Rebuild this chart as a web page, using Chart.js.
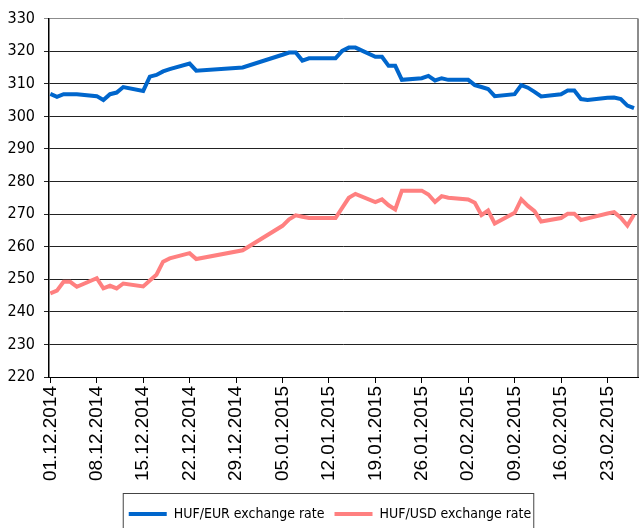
<!DOCTYPE html>
<html>
<head>
<meta charset="utf-8">
<script src="https://cdn.jsdelivr.net/npm/chart.js@4.4.1/dist/chart.umd.min.js"></script>
<style>
  html, body { margin: 0; padding: 0; background: #fff; overflow: hidden; }
  #wrap { width: 640px; height: 548px; }
</style>
</head>
<body>
<div id="wrap"><canvas id="rates" width="640" height="548"></canvas></div>
<script>
// trading days shown in the chart
const dates = [
  "01.12.2014","02.12.2014","03.12.2014","04.12.2014","05.12.2014",
  "08.12.2014","09.12.2014","10.12.2014","11.12.2014","12.12.2014",
  "15.12.2014","16.12.2014","17.12.2014","18.12.2014","19.12.2014",
  "22.12.2014","23.12.2014","30.12.2014",
  "05.01.2015","06.01.2015","07.01.2015","08.01.2015","09.01.2015",
  "12.01.2015","13.01.2015","14.01.2015","15.01.2015","16.01.2015",
  "19.01.2015","20.01.2015","21.01.2015","22.01.2015","23.01.2015",
  "26.01.2015","27.01.2015","28.01.2015","29.01.2015","30.01.2015",
  "02.02.2015","03.02.2015","04.02.2015","05.02.2015","06.02.2015",
  "09.02.2015","10.02.2015","11.02.2015","12.02.2015","13.02.2015",
  "16.02.2015","17.02.2015","18.02.2015","19.02.2015","20.02.2015",
  "23.02.2015","24.02.2015","25.02.2015","26.02.2015","27.02.2015"
];
const huf_eur = [
  306.9, 306.0, 306.8, 306.8, 306.8,
  306.2, 305.0, 306.8, 307.3, 309.0,
  307.8, 312.2, 312.7, 313.8, 314.5,
  316.2, 314.0, 315.0,
  318.9, 319.6, 319.6, 317.1, 317.8,
  317.8, 317.8, 320.1, 321.1, 321.1,
  318.3, 318.3, 315.5, 315.5, 311.2,
  311.7, 312.4, 311.0, 311.7, 311.2,
  311.2, 309.6, 309.0, 308.4, 306.2,
  306.8, 309.6, 308.8, 307.5, 306.1,
  306.8, 307.9, 307.9, 305.3, 305.0,
  305.7, 305.8, 305.3, 303.3, 302.5
];
const huf_usd = [
  245.7, 246.5, 249.2, 249.2, 247.7,
  250.3, 247.2, 248.0, 247.2, 248.7,
  247.8, 249.6, 251.4, 255.4, 256.4,
  258.0, 256.2, 258.9,
  266.4, 268.4, 269.6, 269.2, 268.8,
  268.8, 268.8, 271.9, 275.0, 276.2,
  273.7, 274.5, 272.7, 271.4, 277.2,
  277.2, 276.0, 273.7, 275.5, 275.0,
  274.5, 273.5, 269.7, 271.1, 267.1,
  270.4, 274.5, 272.5, 270.9, 267.7,
  268.8, 270.1, 270.1, 268.2, 268.7,
  270.2, 270.6, 268.9, 266.5, 269.9
];
const week_labels = [
  "01.12.2014","08.12.2014","15.12.2014","22.12.2014","29.12.2014",
  "05.01.2015","12.01.2015","19.01.2015","26.01.2015","02.02.2015",
  "09.02.2015","16.02.2015","23.02.2015"
];
const series_names = ["HUF/EUR exchange rate", "HUF/USD exchange rate"];

// days since 01.12.2014
function dayIndex(s){
  const [d, m, y] = s.split(".").map(Number);
  return Math.round((Date.UTC(y, m - 1, d) - Date.UTC(2014, 11, 1)) / 86400000);
}

const narrow = "'Liberation Sans Narrow', 'DejaVu Sans Condensed', Arial, sans-serif";
const LEGEND_SHIFT = 11;

// legend sits a little right of centre, with a box round it cut by the picture edge
const legendBox = {
  id: "legendBox",
  afterUpdate(chart){
    chart.legend.left += LEGEND_SHIFT;
    chart.legend.right += LEGEND_SHIFT;
  },
  afterDraw(chart){
    const boxes = chart.legend.legendHitBoxes;
    if(!boxes || !boxes.length) return;
    const first = boxes[0], last = boxes[boxes.length - 1];
    const c = chart.ctx;
    c.save();
    c.strokeStyle = "#444";
    c.lineWidth = 1;
    c.strokeRect(first.left + LEGEND_SHIFT - 5.5, first.top - 13.5,
                 last.left + last.width - first.left + 8, 80);
    // right border of the plot
    const a = chart.chartArea;
    c.strokeStyle = "#8c8c8c";
    c.lineWidth = 2;
    c.beginPath();
    c.moveTo(a.right, a.top);
    c.lineTo(a.right, a.bottom);
    c.stroke();
    c.restore();
  }
};

const ctx = document.getElementById("rates").getContext("2d");

new Chart(ctx, {
  type: "line",
  data: {
    datasets: [
      {
        label: series_names[0],
        data: dates.map((d, i) => ({x: dayIndex(d), y: huf_eur[i]})),
        borderColor: "#0066cc",
        backgroundColor: "#0066cc",
        borderWidth: 4,
        pointRadius: 0,
        tension: 0
      },
      {
        label: series_names[1],
        data: dates.map((d, i) => ({x: dayIndex(d), y: huf_usd[i]})),
        borderColor: "#ff8080",
        backgroundColor: "#ff8080",
        borderWidth: 4,
        pointRadius: 0,
        tension: 0
      }
    ]
  },
  options: {
    responsive: false,
    animation: false,
    layout: { padding: { left: 0, right: 2, top: 15, bottom: 17 } },
    plugins: {
      tooltip: { enabled: false },
      legend: {
        position: "bottom",
        labels: {
          usePointStyle: true,
          pointStyle: "line",
          pointStyleWidth: 38,
          boxHeight: 16,
          padding: 10,
          color: "#000",
          font: { family: narrow, size: 14 }
        }
      }
    },
    scales: {
      x: {
        type: "linear",
        min: -0.2,
        max: 88.6,
        afterBuildTicks(scale){
          scale.ticks = week_labels.map(l => ({value: dayIndex(l)}));
        },
        afterFit(scale){ scale.height = 120; },
        ticks: {
          autoSkip: false,
          minRotation: 90,
          maxRotation: 90,
          padding: 3,
          color: "#000",
          font: { family: "'Liberation Sans', Arial, sans-serif", size: 19 },
          callback: (v, i) => week_labels[i]
        },
        grid: {
          drawOnChartArea: false,
          drawTicks: true,
          tickLength: 6,
          color: "#000"
        },
        border: { color: "#000", width: 1 }
      },
      y: {
        min: 220,
        max: 330,
        afterFit(scale){ scale.width = 49; },
        ticks: {
          stepSize: 10,
          padding: 9,
          color: "#000",
          font: { family: narrow, size: 16 }
        },
        grid: {
          color: c => c.tick && c.tick.value === 330 ? "#8c8c8c" : "#222",
          lineWidth: 1,
          tickLength: 5
        },
        border: { color: "#000", width: 1.5 }
      }
    }
  },
  plugins: [legendBox]
});
</script>
</body>
</html>
